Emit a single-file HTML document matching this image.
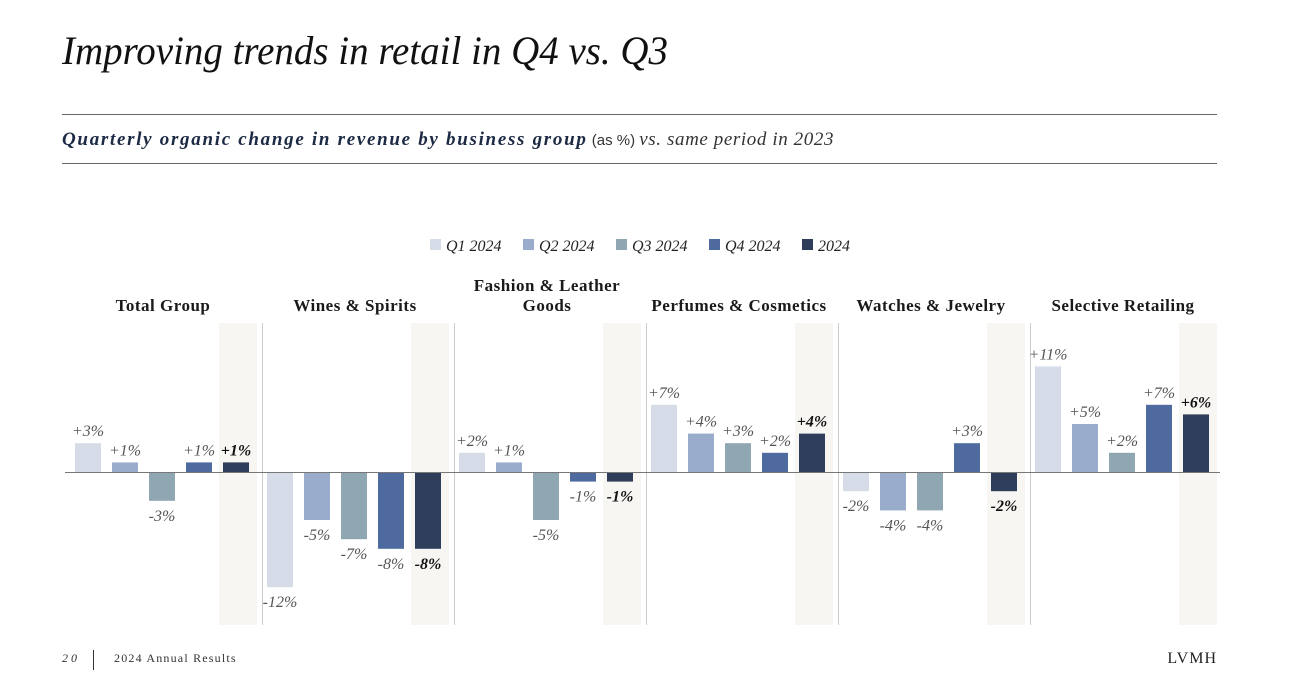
<!DOCTYPE html>
<html><head><meta charset="utf-8">
<style>
body{margin:0;background:#fff;}
svg{display:block;}
text{font-family:"Liberation Serif",serif;}
</style></head>
<body>
<svg id="c" width="1292" height="687" viewBox="0 0 1292 687">
<text x="62" y="64" font-size="40" font-style="italic" fill="#111" textLength="606" lengthAdjust="spacingAndGlyphs">Improving trends in retail in Q4 vs. Q3</text>
<line x1="62" y1="114.5" x2="1217" y2="114.5" stroke="#666" stroke-width="1"/>
<text x="62" y="145" font-size="19" fill="#1d2a44"><tspan font-weight="bold" font-style="italic" letter-spacing="1.7">Quarterly organic change in revenue by business group</tspan><tspan font-family="Liberation Sans" font-size="15" fill="#333"> (as %) </tspan><tspan font-style="italic" fill="#333" letter-spacing="0.6">vs. same period in 2023</tspan></text>
<line x1="62" y1="163.5" x2="1217" y2="163.5" stroke="#666" stroke-width="1"/>
<g id="legend"></g>
<g id="plot"></g>
<text x="62" y="662" font-size="12" font-style="italic" letter-spacing="3" fill="#333">20</text>
<line x1="93.5" y1="650" x2="93.5" y2="670" stroke="#333"/>
<text x="114" y="662" font-size="12" letter-spacing="1.2" fill="#333">2024 Annual Results</text>
<text x="1217" y="663" font-size="16" text-anchor="end" letter-spacing="1" fill="#222">LVMH</text>
</svg>
<script>
const groups = ["Total Group","Wines & Spirits","Fashion & Leather Goods","Perfumes & Cosmetics","Watches & Jewelry","Selective Retailing"];
const seriesNames = ["Q1 2024","Q2 2024","Q3 2024","Q4 2024","2024"];
const q1 = [3,-12,2,7,-2,11];
const q2 = [1,-5,1,4,-4,5];
const q3 = [-3,-7,-5,3,-4,2];
const q4 = [1,-8,-1,2,3,7];
const fy = [1,-8,-1,4,-2,6];
const series = [q1,q2,q3,q4,fy];
const colors = ["#d6dde9","#9aaccb","#8fa7b3","#4e6a9e","#2e3d5a"];

const NS="http://www.w3.org/2000/svg";
const plot=document.getElementById('plot');
const legend=document.getElementById('legend');
const zeroY=472, pxPer=9.6, groupW=192, x0=70;
function y(v){return zeroY - v*pxPer;}
function gx(i){return x0 + i*groupW;}
function mk(tag,attrs,parent){const e=document.createElementNS(NS,tag);for(const k in attrs)e.setAttribute(k,attrs[k]);parent.appendChild(e);return e;}

let lx=430;
const lw=[93,93,93,93,60];
seriesNames.forEach((n,s)=>{
  const sq=mk('rect',{x:lx,y:239,width:11,height:11,fill:colors[s]},legend);
  
  
  const t=mk('text',{x:lx+16,y:251,'font-size':16,'font-style':'italic',fill:'#222'},legend);
  t.textContent=n;
  
  
  lx+=lw[s];
});

groups.forEach((g,i)=>{
  const base=gx(i);
  const band=mk('rect',{x:base+149,y:323,width:38,height:302,fill:'#f8f6f2'},plot);
  
  
  if(i>0){
    const sep=mk('line',{x1:base+0.5,y1:323,x2:base+0.5,y2:625,stroke:'#ccc','stroke-width':1},plot);
    
    
  }
  const cx=base+93;
  const tt=mk('text',{x:cx,'text-anchor':'middle','font-size':17,'font-weight':'bold',fill:'#1a1a1a','letter-spacing':0.5},plot);
  
  
  if(g==="Fashion & Leather Goods"){
    mk('tspan',{x:cx,y:291},tt).textContent="Fashion & Leather";
    mk('tspan',{x:cx,y:311},tt).textContent="Goods";
  } else {tt.setAttribute('y',311);tt.textContent=g;}
  series.forEach((arr,s)=>{
    const v=arr[i];
    const bx=base+5+s*37;
    const top=Math.min(y(v),zeroY), h=Math.abs(y(v)-zeroY);
    const r=mk('rect',{x:bx,y:top,width:26,height:h,fill:colors[s]},plot);
    
    
    const lbl=mk('text',{x:bx+13,y:v>=0?y(v)-7:y(v)+20,'text-anchor':'middle','font-size':16,'font-style':'italic',fill:s===4?'#111':'#555','font-weight':s===4?'bold':'normal'},plot);
    lbl.textContent=(v>0?'+':'')+v+'%';
    
    
  });
});
const zl=mk('line',{x1:65,y1:zeroY+0.5,x2:1220,y2:zeroY+0.5,stroke:'#777','stroke-width':1},plot);


</script>
</body></html>
